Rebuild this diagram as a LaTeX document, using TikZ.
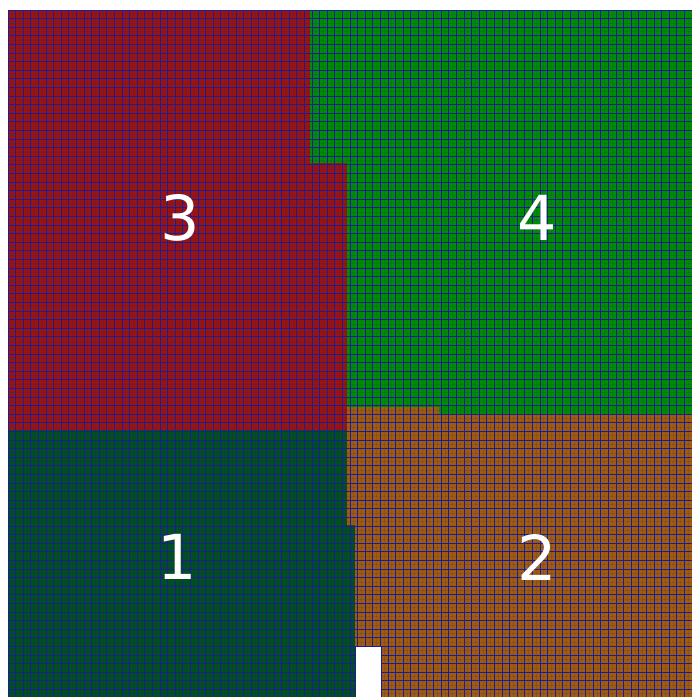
\documentclass[tikz,border=0pt]{standalone}
\usepackage{fontspec}
\setmainfont{DejaVu Sans}
\definecolor{rred}{RGB}{155,20,12}
\definecolor{rgreen}{RGB}{0,142,0}
\definecolor{rdark}{RGB}{0,80,28}
\definecolor{rorange}{RGB}{160,92,10}
\definecolor{rgrid}{RGB}{28,28,155}
\tikzset{
  gridline/.style={draw=rgrid, line width=0.75pt},
  faintline/.style={draw=rgrid, line width=0.7pt, opacity=0.15},
  regionlabel/.style={text=white, font=\fontsize{62}{62}\selectfont, inner sep=0pt}
}
\begin{document}
\begin{tikzpicture}[x=1pt,y=-1pt]
\useasboundingbox (0,0) rectangle (692,697);
% regions
\fill[rred] (8,10) -- (310,10) -- (310,163) -- (347,163) -- (347,430) -- (8,430) -- cycle;
\fill[rgreen] (310,10) -- (692,10) -- (692,415) -- (439,415) -- (439,407) -- (347,407) -- (347,163) -- (310,163) -- cycle;
\fill[rdark] (8,430) -- (347,430) -- (347,525) -- (355,525) -- (355,697) -- (8,697) -- cycle;
\fill[rorange] (347,407) -- (439,407) -- (439,415) -- (692,415) -- (692,697) -- (382,697) -- (382,646) -- (355,646) -- (355,525) -- (347,525) -- cycle;
% grid
\begin{scope}
\clip (8,10) rectangle (692,697);
\foreach \i in {0,...,90} {
  \draw[gridline] (8+\i*7.6,10) -- (8+\i*7.6,697);
  \draw[faintline] (11.8+\i*7.6,10) -- (11.8+\i*7.6,697);
}
\foreach \j in {0,...,80} {
  \draw[gridline] (8,10+\j*8.6) -- (692,10+\j*8.6);
  \draw[faintline] (8,14.3+\j*8.6) -- (692,14.3+\j*8.6);
}
\end{scope}
% white gap
\fill[white] (355.5,646.5) rectangle (381.5,697);
\draw[gridline] (355.5,697) -- (355.5,646.5) -- (381.5,646.5) -- (381.5,697);
% labels
\node[regionlabel] (l3) at (180,218) {3};
\node[regionlabel] (l4) at (537,218) {4};
\node[regionlabel] (l1) at (177,557) {1};
\node[regionlabel] (l2) at (537,557) {2};
\end{tikzpicture}
\end{document}
